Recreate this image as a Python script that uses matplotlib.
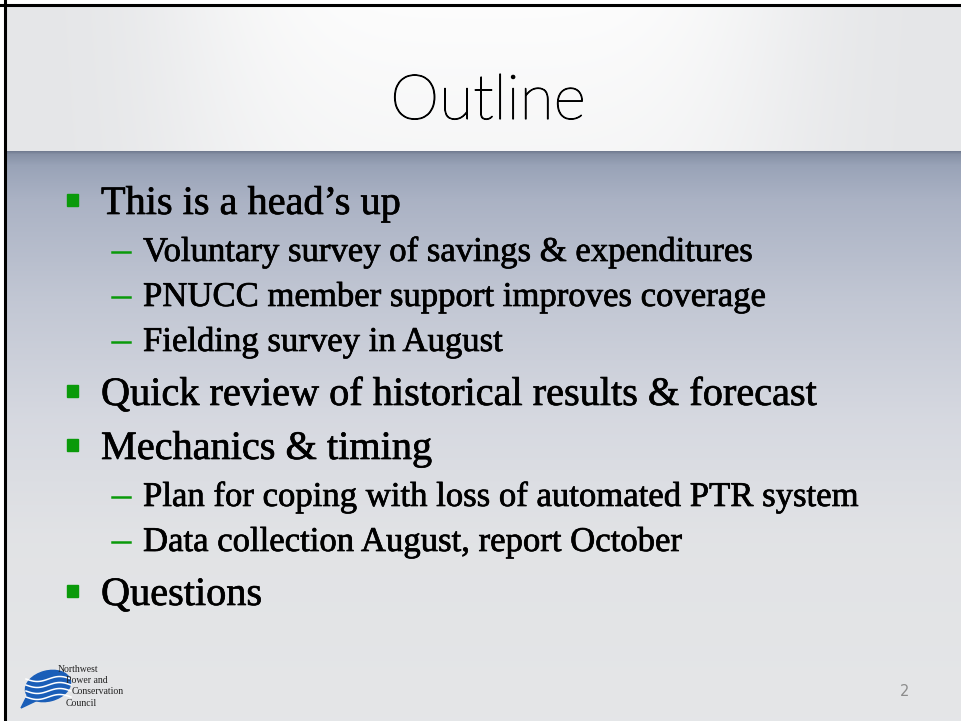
import numpy as np
import matplotlib
matplotlib.use("Agg")
import matplotlib.pyplot as plt
import matplotlib.patheffects as pe
from matplotlib.patches import Rectangle, Ellipse, Polygon
from matplotlib.lines import Line2D

# slide content
title = "Outline"
bullets = [
    "This is a head\u2019s up",
    "Voluntary survey of savings & expenditures",
    "PNUCC member support improves coverage",
    "Fielding survey in August",
    "Quick review of historical results & forecast",
    "Mechanics & timing",
    "Plan for coping with loss of automated PTR system",
    "Data collection August, report October",
    "Questions",
]
levels = [1, 2, 2, 2, 1, 1, 2, 2, 1]
logo_lines = ["Northwest", "Power and", "Conservation", "Council"]
page_number = "2"

W, H = 962, 721
fig = plt.figure(figsize=(W / 100, H / 100), dpi=100)
ax = fig.add_axes([0, 0, 1, 1])
ax.set_xlim(0, W)
ax.set_ylim(H, 0)
ax.axis("off")

# header background: light grey with a white glow in the middle
hx = np.linspace(0, 1, 400)
hy = np.linspace(0, 1, 60)
gx, gy = np.meshgrid(hx, hy)
glow = np.exp(-((gx - 0.5) / 0.33) ** 4) * (1 - 0.25 * gy)
edge = np.array([0.898, 0.902, 0.910])
center = np.array([0.99, 0.99, 0.99])
head = edge[None, None, :] + glow[:, :, None] * (center - edge)[None, None, :]
ax.imshow(head, extent=[6, W, 151, 6], aspect="auto", zorder=0, interpolation="bilinear")

# body background: blue grey at top fading to light grey
stops_y = [151, 154, 165, 200, 300, 420, 540, 721]
stops_c = [
    (0.45, 0.49, 0.57),
    (0.53, 0.57, 0.65),
    (0.60, 0.64, 0.72),
    (0.67, 0.70, 0.77),
    (0.76, 0.78, 0.83),
    (0.84, 0.85, 0.88),
    (0.885, 0.89, 0.90),
    (0.898, 0.902, 0.910),
]
yy = np.arange(151, H + 1)
body = np.zeros((len(yy), 1, 3))
for k in range(3):
    body[:, 0, k] = np.interp(yy, stops_y, [c[k] for c in stops_c])
ax.imshow(body, extent=[6, W, H, 151], aspect="auto", zorder=0, interpolation="bilinear")

# border lines
ax.add_line(Line2D([0, W], [5, 5], color="black", lw=2.2, zorder=5))
ax.add_line(Line2D([5, 5], [0, H], color="black", lw=2.2, zorder=5))
ax.add_patch(Rectangle((0, 0), 4, H, color="white", zorder=4))
ax.add_patch(Rectangle((0, 0), W, 4, color="white", zorder=4))

# title
ax.text(488, 119, title, fontsize=45, family="Lato", weight="light",
        color="black", ha="center", va="baseline", zorder=3,
        path_effects=[pe.withStroke(linewidth=0.8, foreground="black")])

# bullets (slight stroke to get closer to the heavier original face)
bold_fx = [pe.withStroke(linewidth=0.5, foreground="black")]
green = "#0a9a0a"
serif = "Liberation Serif"
y = 214
prev = None
for txt, lv in zip(bullets, levels):
    if prev is not None:
        if lv == 1:
            y += 54
        elif prev == 1:
            y += 47
        else:
            y += 45
    if lv == 1:
        ax.add_patch(Rectangle((67, y - 20), 11, 12, color=green, zorder=3))
        ax.text(101, y, txt, fontsize=29, family=serif, color="black",
                va="baseline", ha="left", zorder=3, path_effects=bold_fx)
    else:
        ax.add_line(Line2D([112, 130], [y - 9, y - 9], color=green, lw=1.8, zorder=3))
        ax.text(143, y, txt, fontsize=25, family=serif, color="black",
                va="baseline", ha="left", zorder=3, path_effects=bold_fx)
    prev = lv

# logo
blue = "#1a5eb8"
ax.add_patch(Ellipse((48, 686), 46, 30, angle=-15, color=blue, zorder=3))
ax.add_patch(Polygon([[30, 690], [21, 708], [42, 698]], closed=True, color=blue, zorder=3))
for dy in (-7, -1, 5, 11):
    wx = np.linspace(26, 71, 30)
    wy = 686 + dy + 2.5 * np.sin((wx - 26) / 45 * 2 * np.pi)
    ax.plot(wx, wy, color="white", lw=1.1, zorder=3)
logo_x = [58, 66, 72, 66]
for i, line in enumerate(logo_lines):
    ax.text(logo_x[i], 669 + i * 11.5, line, fontsize=7, family=serif,
            color="#222222", va="center", ha="left", zorder=3)

# page number
ax.text(905, 692, page_number, fontsize=10.5, family="DejaVu Sans",
        color="#8c8c8c", ha="center", va="center", zorder=3)

fig.savefig("out.png", dpi=100)
